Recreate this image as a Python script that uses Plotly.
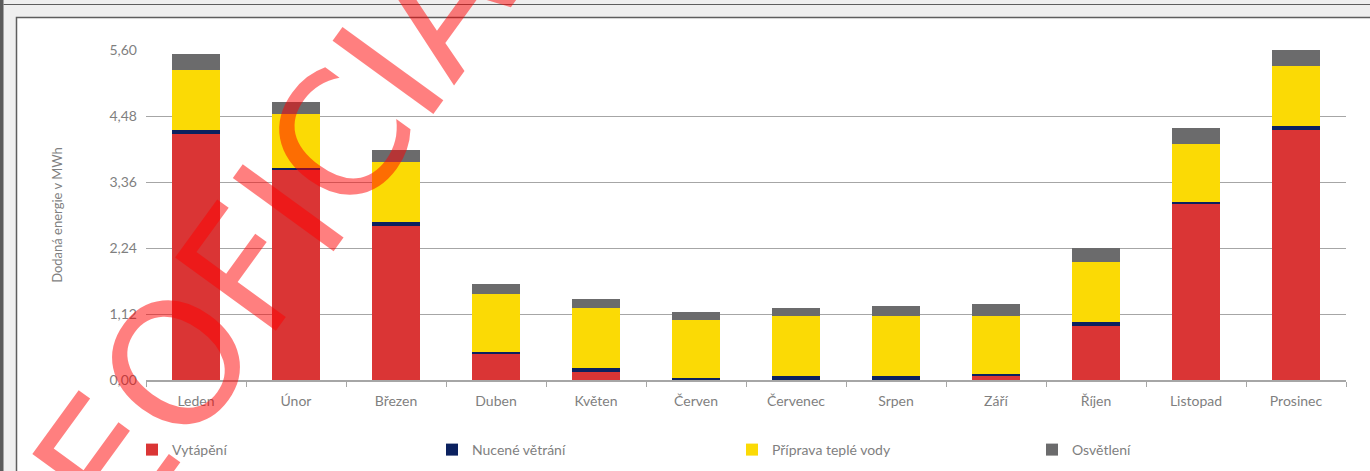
import plotly.graph_objects as go

months = ["Leden", "Únor", "Březen", "Duben", "Květen", "Červen",
          "Červenec", "Srpen", "Září", "Říjen", "Listopad", "Prosinec"]
vytapeni = [4.17, 3.56, 2.61, 0.44, 0.14, 0.0, 0.0, 0.0, 0.07, 0.92, 2.99, 4.24]
vetrani = [0.068, 0.034, 0.068, 0.034, 0.068, 0.034, 0.068, 0.068, 0.034, 0.068, 0.034, 0.068]
tepla_voda = [1.02, 0.92, 1.02, 0.98, 1.02, 0.98, 1.02, 1.02, 0.98, 1.02, 0.98, 1.02]
osvetleni = [0.27, 0.20, 0.20, 0.17, 0.14, 0.14, 0.14, 0.17, 0.20, 0.24, 0.27, 0.27]
y_ticks = [0.0, 1.12, 2.24, 3.36, 4.48, 5.60]

series = [
    ("Vytápění", vytapeni, "#DA3535"),
    ("Nucené větrání", vetrani, "#0B215F"),
    ("Příprava teplé vody", tepla_voda, "#FBDA05"),
    ("Osvětlení", osvetleni, "#6B6B6C"),
]

W, H = 1370, 471
L, R, T, B = 146, 1346, 50, 380


def px(x):
    return (x - L) / (R - L)


def py(y):
    return (B - y) / (B - T)


fig = go.Figure()
for name, vals, col in series:
    fig.add_trace(go.Bar(x=months, y=vals, name=name, marker=dict(color=col, line=dict(width=0))))

TXT = "#7F7F7F"
FONT = "Lato"

fig.update_layout(
    width=W, height=H,
    barmode="stack", bargap=0.52,
    margin=dict(l=L, r=W - R, t=T, b=H - B, autoexpand=False),
    paper_bgcolor="#EFEFEF",
    plot_bgcolor="rgba(0,0,0,0)",
    separators=", ",
    font=dict(family=FONT, color=TXT, size=14),
    showlegend=True,
    legend=dict(
        orientation="h", x=px(132), y=py(434), xanchor="left", yanchor="top",
        entrywidth=255, entrywidthmode="pixels",
        font=dict(family=FONT, size=14, color=TXT),
        bgcolor="rgba(0,0,0,0)", traceorder="normal",
    ),
    xaxis=dict(
        type="category", showgrid=False, showline=True, linecolor="#A6A6A6", linewidth=1.5,
        ticks="outside", tickson="boundaries", ticklen=5, tickcolor="#A6A6A6",
        tickfont=dict(family=FONT, size=14, color=TXT), ticklabelstandoff=7,
    ),
    yaxis=dict(
        range=[0, 5.6001], tickvals=y_ticks, tickformat=".2f",
        showgrid=True, gridcolor="#A6A6A6", gridwidth=1.2, zeroline=False,
        showline=False, ticks="",
        tickfont=dict(family=FONT, size=14, color=TXT), ticklabelstandoff=8,
        title=dict(text="Dodaná energie v MWh", font=dict(family=FONT, size=13, color=TXT), standoff=43),
    ),
    shapes=[
        dict(type="rect", xref="paper", yref="paper", x0=px(0), x1=px(3.5), y0=py(0), y1=py(H + 2),
             fillcolor="#5B5B5B", line=dict(width=0), layer="below"),
        dict(type="line", xref="paper", yref="paper", x0=px(3.5), x1=px(W + 2), y0=py(4.5), y1=py(4.5),
             line=dict(color="#5E5E5E", width=1), layer="below"),
        dict(type="rect", xref="paper", yref="paper", x0=px(16.5), x1=px(W + 5), y0=py(17.5), y1=py(H + 5),
             fillcolor="white", line=dict(color="#5E5E5E", width=1.5), layer="below"),
    ],
    annotations=[
        dict(text="NEOFICIÁLNÍ", xref="paper", yref="paper", x=px(317), y=py(172),
             xanchor="center", yanchor="middle", showarrow=False, textangle=-54,
             font=dict(family="DejaVu Sans", size=171, color="rgba(255,0,0,0.5)")),
    ],
)

fig.write_html("out.html",
               config={"displayModeBar": False},
               post_script="document.body.style.margin='0';document.body.style.overflow='hidden';")
